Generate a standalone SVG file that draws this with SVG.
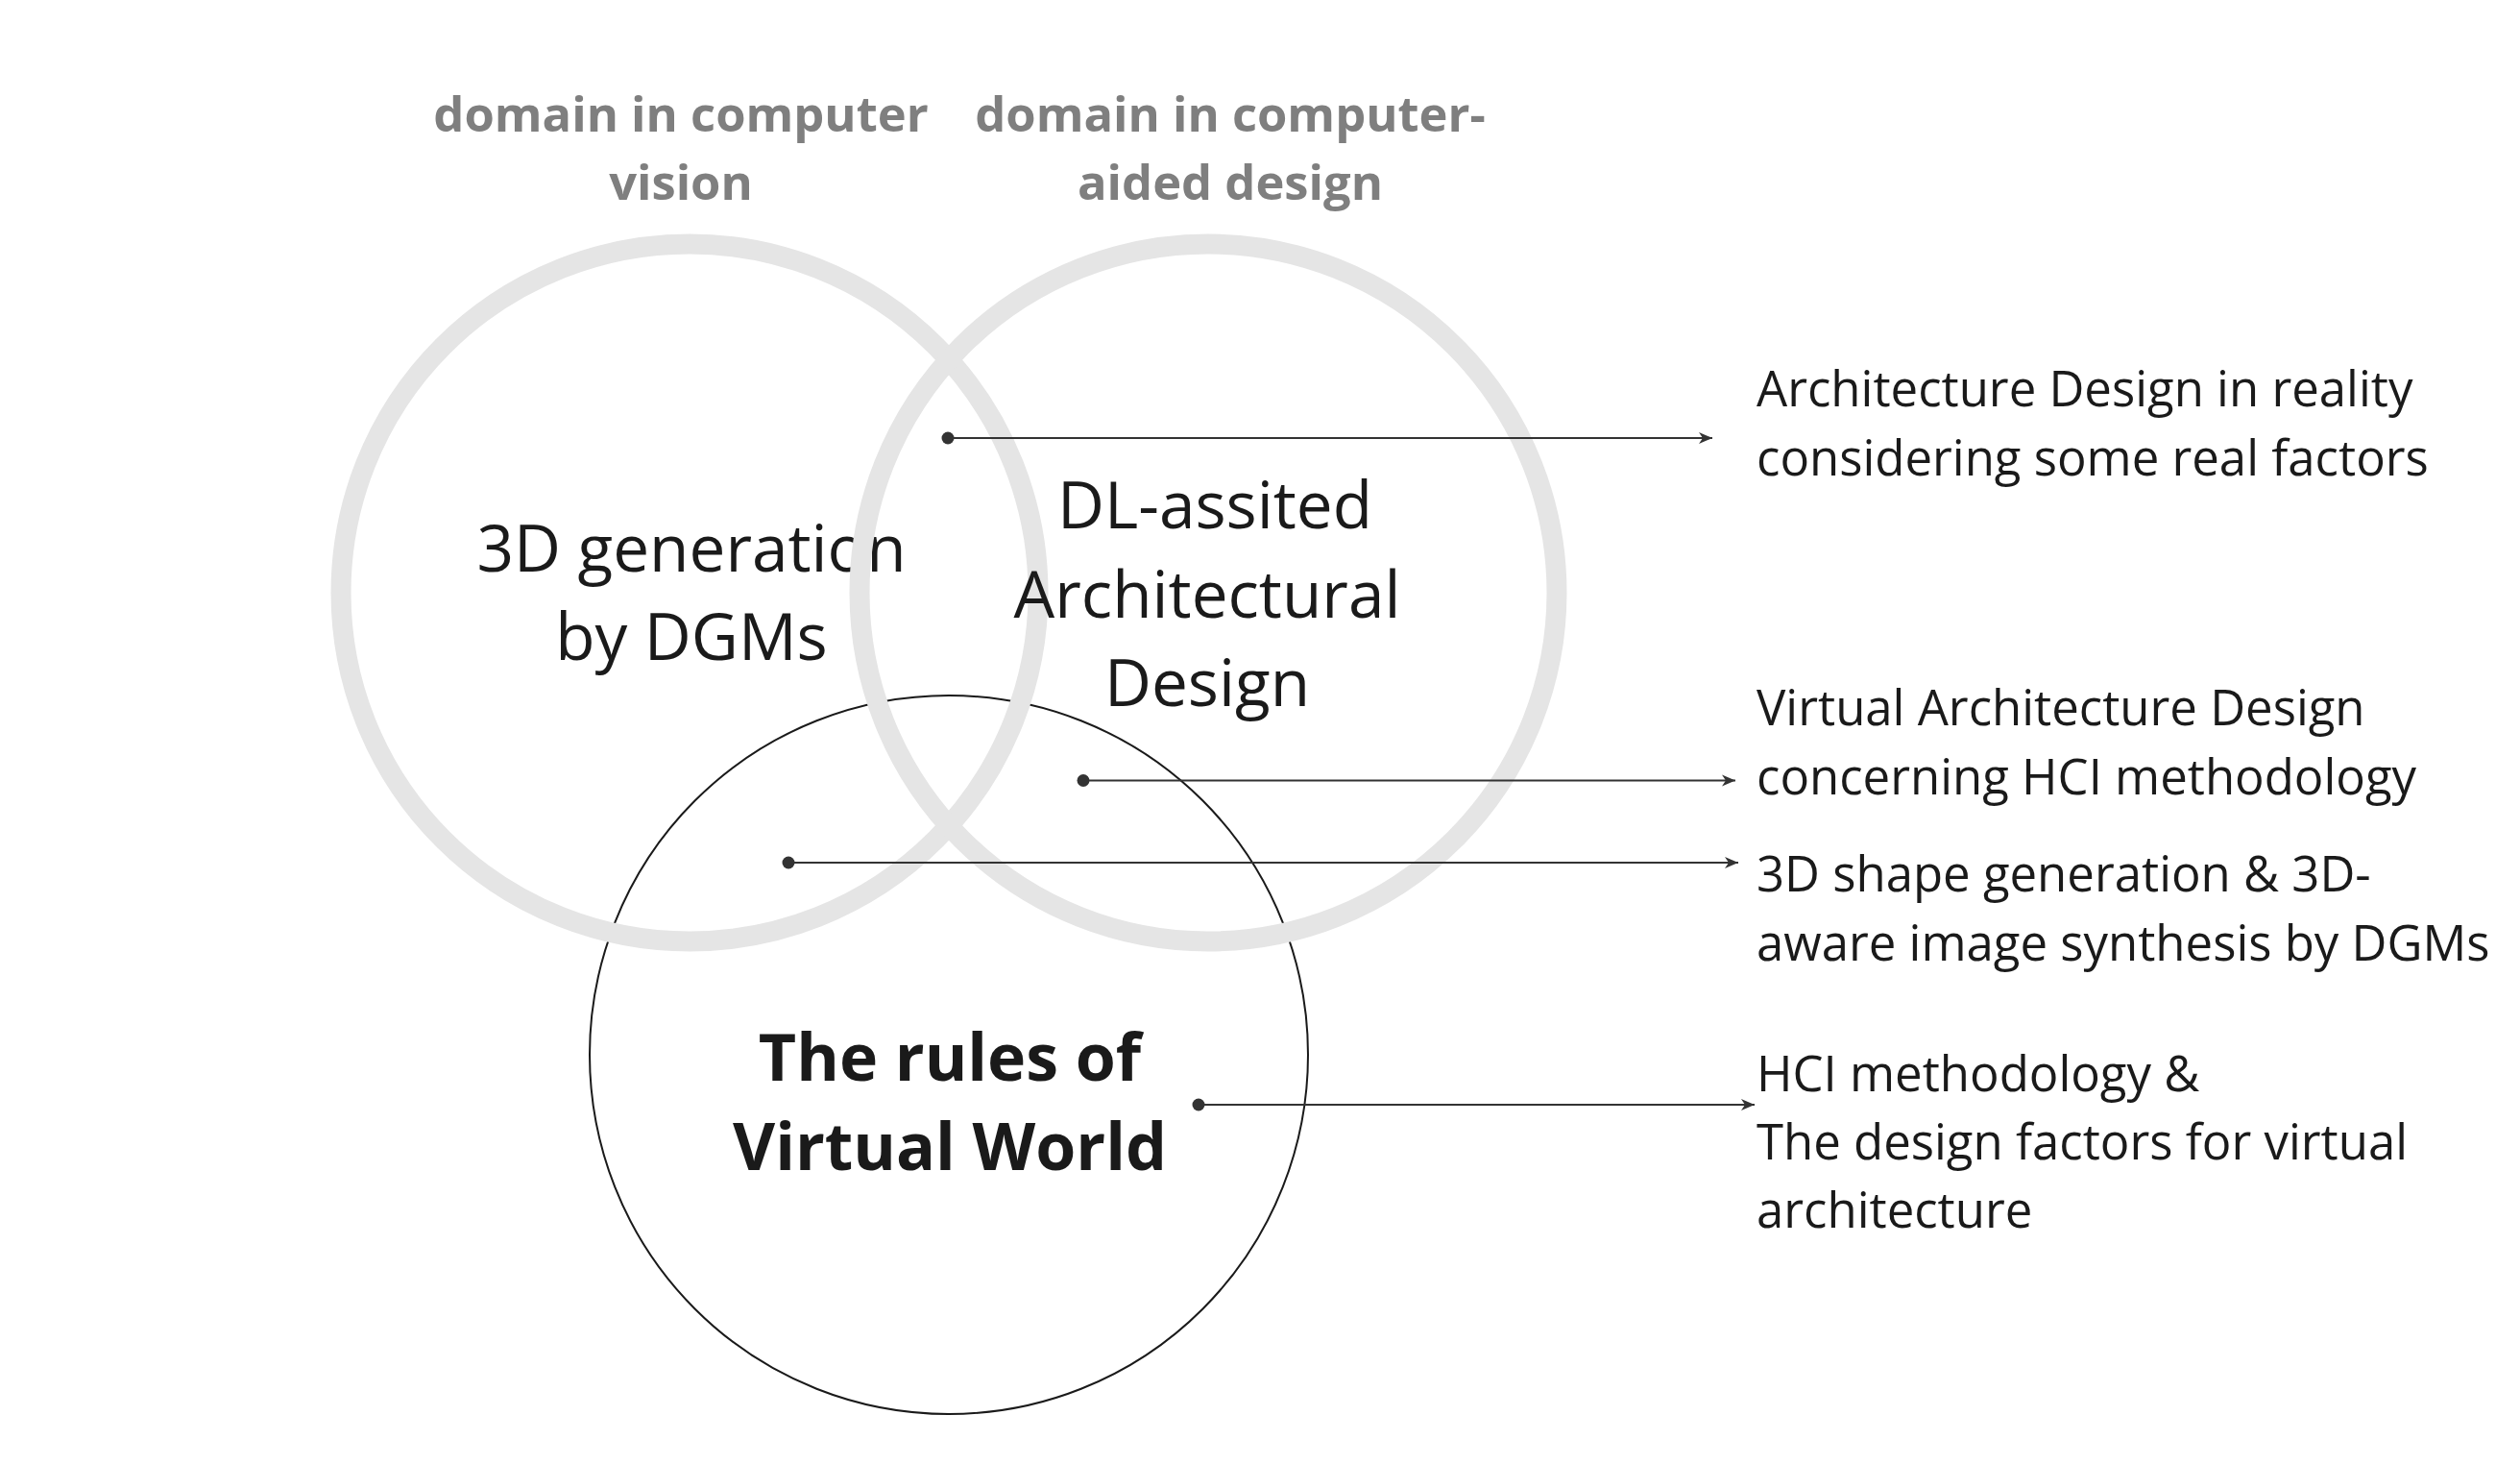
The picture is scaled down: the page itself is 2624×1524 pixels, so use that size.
<svg xmlns="http://www.w3.org/2000/svg" width="2624" height="1524" viewBox="0 0 2624 1524">
<style>
.ring{fill:none;stroke:#e5e5e5;stroke-width:21}
.thin{fill:none;stroke:#1a1a1a;stroke-width:2}
.lbl{font-family:"Open Sans","Noto Sans","Liberation Sans",sans-serif;font-weight:700;font-size:50.7px;fill:#7f7f7f;text-anchor:middle}
.big{font-family:"Open Sans","Noto Sans","Liberation Sans",sans-serif;font-size:67.5px;fill:#1a1a1a;text-anchor:middle}
.bigb{font-family:"Open Sans","Noto Sans","Liberation Sans",sans-serif;font-weight:700;font-size:68px;fill:#1a1a1a;text-anchor:middle}
.desc{font-family:"Open Sans","Noto Sans","Liberation Sans",sans-serif;font-size:50.9px;fill:#1a1a1a}
.conn{stroke:#333;stroke-width:2;fill:none}
.dot{fill:#333}
</style>
<defs>
<marker id="arr" markerUnits="userSpaceOnUse" markerWidth="16" markerHeight="14" refX="15" refY="7" orient="auto">
<path d="M1,1 L15,7 L1,13 L5,7 Z" fill="#333"/>
</marker>
</defs>
<rect width="2624" height="1524" fill="#fff"/>
<g id="labels">
<text class="lbl" x="709" y="137">domain in computer</text>
<text class="lbl" x="709" y="208">vision</text>
<text class="lbl" x="1281" y="137">domain in computer-</text>
<text class="lbl" x="1281" y="208">aided design</text>
</g>
<g id="node-virtual-world">
<circle class="thin" cx="988" cy="1098" r="374"/>
</g>
<g id="node-3d-generation">
<circle class="ring" cx="718" cy="617" r="363"/>
<text class="big" x="720" y="595">3D generation</text>
<text class="big" x="720" y="687">by DGMs</text>
</g>
<g id="node-dl-assisted">
<circle class="ring" cx="1258" cy="617" r="363"/>
<text class="big" x="1265" y="550">DL-assited</text>
<text class="big" x="1257" y="643">Architectural</text>
<text class="big" x="1257" y="735">Design</text>
</g>
<g id="node-virtual-world-text">
<text class="bigb" x="989" y="1125">The rules of</text>
<text class="bigb" x="989" y="1218">Virtual World</text>
</g>
<g id="connectors">
<line class="conn" x1="987" y1="456" x2="1783" y2="456" marker-end="url(#arr)"/>
<circle class="dot" cx="987" cy="456" r="6.5"/>
<line class="conn" x1="1128" y1="812.5" x2="1807" y2="812.5" marker-end="url(#arr)"/>
<circle class="dot" cx="1128" cy="812.5" r="6.5"/>
<line class="conn" x1="821" y1="898" x2="1810" y2="898" marker-end="url(#arr)"/>
<circle class="dot" cx="821" cy="898" r="6.5"/>
<line class="conn" x1="1248" y1="1150" x2="1827" y2="1150" marker-end="url(#arr)"/>
<circle class="dot" cx="1248" cy="1150" r="6.5"/>
</g>
<g id="desc-reality">
<text class="desc" x="1829" y="423">Architecture Design in reality</text>
<text class="desc" x="1829" y="495">considering some real factors</text>
</g>
<g id="desc-virtual">
<text class="desc" x="1829" y="755">Virtual Architecture Design</text>
<text class="desc" x="1829" y="827">concerning HCI methodology</text>
</g>
<g id="desc-3d">
<text class="desc" x="1829" y="928">3D shape generation &amp; 3D-</text>
<text class="desc" x="1829" y="1000">aware image synthesis by DGMs</text>
</g>
<g id="desc-hci">
<text class="desc" x="1829" y="1136">HCI methodology &amp;</text>
<text class="desc" x="1829" y="1207">The design factors for virtual</text>
<text class="desc" x="1829" y="1278">architecture</text>
</g>
</svg>
